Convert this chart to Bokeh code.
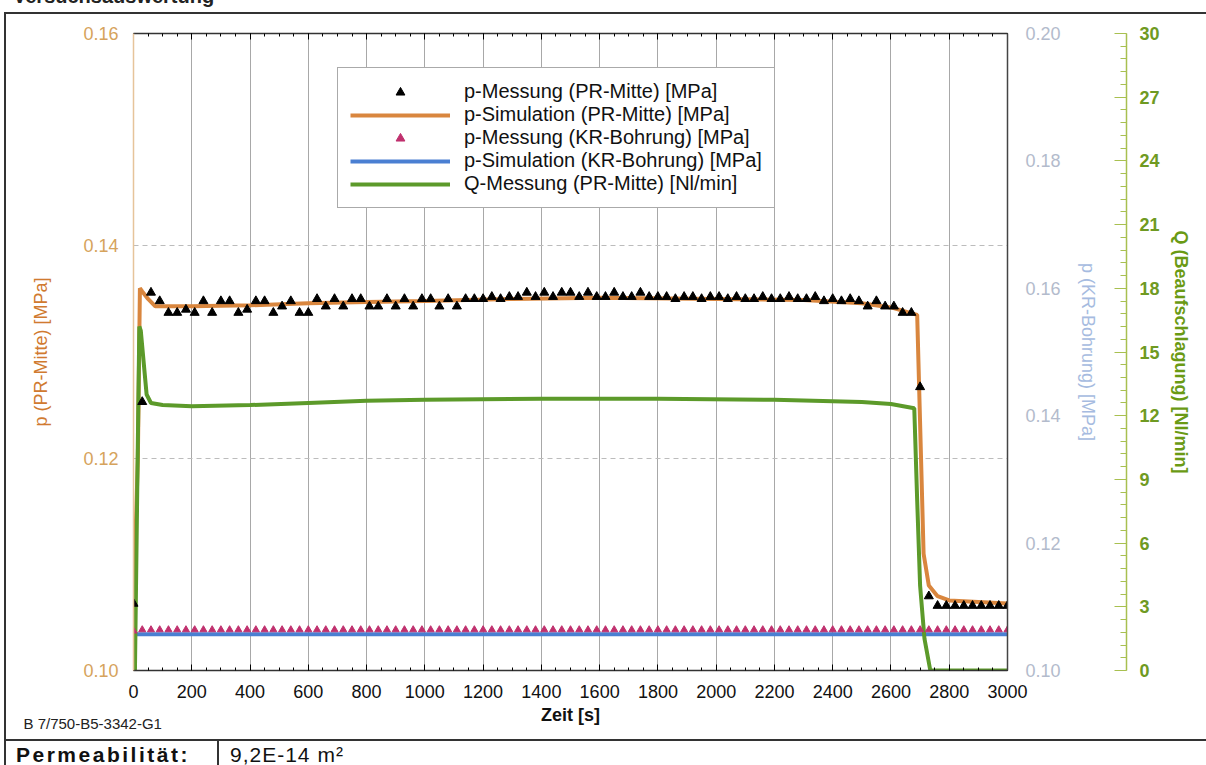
from bokeh.plotting import figure
from bokeh.layouts import column, row
from bokeh.models import (LinearAxis, Range1d, FixedTicker, Legend, LegendItem,
                          PrintfTickFormatter, Title, Div)
from bokeh.embed import file_html
from bokeh.resources import INLINE

FONT = "Liberation Sans"

# ---------------- data ----------------
meas_t = [0, 30, 60, 90, 120, 150, 180, 210, 240, 270, 300, 330, 360, 390, 420, 450, 480,
          510, 540, 570, 600, 630, 660, 690, 720, 750, 780, 810, 840, 870, 900, 930, 960,
          990, 1020, 1050, 1080, 1110, 1140, 1170, 1200, 1230, 1260, 1290, 1320, 1350, 1380,
          1410, 1440, 1470, 1500, 1530, 1560, 1590, 1620, 1650, 1680, 1710, 1740, 1770, 1800,
          1830, 1860, 1890, 1920, 1950, 1980, 2010, 2040, 2070, 2100, 2130, 2160, 2190, 2220,
          2250, 2280, 2310, 2340, 2370, 2400, 2430, 2460, 2490, 2520, 2550, 2580, 2610, 2640,
          2670, 2700, 2730, 2760, 2790, 2820, 2850, 2880, 2910, 2940, 2970, 3000]
p_meas_pr = [0.1063, 0.1253, 0.1356, 0.1348, 0.1337, 0.1337, 0.1340, 0.1337, 0.1348, 0.1337,
             0.1348, 0.1348, 0.1337, 0.1340, 0.1348, 0.1348, 0.1337, 0.1343, 0.1348, 0.1337,
             0.1337, 0.1350, 0.1343, 0.1350, 0.1343, 0.1350, 0.1350, 0.1343, 0.1343, 0.1350,
             0.1343, 0.1350, 0.1343, 0.1350, 0.1350, 0.1343, 0.1350, 0.1343, 0.1350, 0.1350,
             0.1350, 0.1352, 0.1350, 0.1352, 0.1352, 0.1356, 0.1352, 0.1356, 0.1352, 0.1356,
             0.1356, 0.1352, 0.1356, 0.1352, 0.1352, 0.1356, 0.1352, 0.1352, 0.1356, 0.1352,
             0.1352, 0.1352, 0.1350, 0.1352, 0.1352, 0.1350, 0.1352, 0.1352, 0.1350, 0.1352,
             0.1350, 0.1350, 0.1352, 0.1350, 0.1350, 0.1352, 0.1350, 0.1350, 0.1352, 0.1348,
             0.1350, 0.1348, 0.1350, 0.1348, 0.1343, 0.1348, 0.1343, 0.1343, 0.1337, 0.1337,
             0.1267, 0.1070, 0.1061, 0.1061, 0.1061, 0.1061, 0.1061, 0.1061, 0.1061, 0.1061,
             0.1061]
p_meas_kr = [0.1062, 0.1064, 0.1064, 0.1064, 0.1064, 0.1064, 0.1064, 0.1064, 0.1064, 0.1064,
             0.1064, 0.1064, 0.1064, 0.1064, 0.1064, 0.1064, 0.1064, 0.1064, 0.1064, 0.1064,
             0.1064, 0.1064, 0.1064, 0.1064, 0.1064, 0.1064, 0.1064, 0.1064, 0.1064, 0.1064,
             0.1064, 0.1064, 0.1064, 0.1064, 0.1064, 0.1064, 0.1064, 0.1064, 0.1064, 0.1064,
             0.1064, 0.1064, 0.1064, 0.1064, 0.1064, 0.1064, 0.1064, 0.1064, 0.1064, 0.1064,
             0.1064, 0.1064, 0.1064, 0.1064, 0.1064, 0.1064, 0.1064, 0.1064, 0.1064, 0.1064,
             0.1064, 0.1064, 0.1064, 0.1064, 0.1064, 0.1064, 0.1064, 0.1064, 0.1064, 0.1064,
             0.1064, 0.1064, 0.1064, 0.1064, 0.1064, 0.1064, 0.1064, 0.1064, 0.1064, 0.1064,
             0.1064, 0.1064, 0.1064, 0.1064, 0.1064, 0.1064, 0.1064, 0.1064, 0.1064, 0.1064,
             0.1064, 0.1064, 0.1064, 0.1064, 0.1064, 0.1064, 0.1064, 0.1064, 0.1064, 0.1064,
             0.1064]

sim_t = [0, 15, 22, 30, 50, 75, 200, 400, 600, 800, 1000, 1300, 1600, 2000, 2300, 2500,
         2600, 2690, 2712, 2730, 2760, 2800, 3000]
p_sim_pr = [0.1063, 0.1200, 0.1360, 0.1357, 0.1350, 0.1343, 0.1343, 0.1344, 0.1346, 0.1347,
            0.1348, 0.1350, 0.1351, 0.1350, 0.1349, 0.1346, 0.1342, 0.1335, 0.1110, 0.1080,
            0.1070, 0.1066, 0.1063]

kr_sim_t = [0, 3000]
p_sim_kr = [0.1057, 0.1057]

q_t = [0, 5, 20, 25, 45, 60, 100, 200, 400, 600, 800, 1000, 1400, 1800, 2200, 2500, 2600,
       2680, 2690, 2700, 2715, 2735, 3000]
q_meas = [0.0, 0.0, 16.2, 16.0, 13.0, 12.6, 12.5, 12.45, 12.5, 12.6, 12.7, 12.75, 12.8, 12.8,
          12.75, 12.65, 12.55, 12.35, 8.0, 4.0, 1.5, 0.0, 0.0]

x_ticks = [0, 200, 400, 600, 800, 1000, 1200, 1400, 1600, 1800, 2000, 2200, 2400, 2600, 2800, 3000]
pr_ticks = [0.10, 0.12, 0.14, 0.16]
kr_ticks = [0.10, 0.12, 0.14, 0.16, 0.18, 0.20]
q_ticks = [0, 3, 6, 9, 12, 15, 18, 21, 24, 27, 30]

legend_labels = ["p-Messung (PR-Mitte) [MPa]", "p-Simulation (PR-Mitte) [MPa]",
                 "p-Messung (KR-Bohrung) [MPa]", "p-Simulation (KR-Bohrung) [MPa]",
                 "Q-Messung (PR-Mitte) [Nl/min]"]

sheet_title = "Versuchsauswertung"
specimen_id = "B 7/750-B5-3342-G1"
perm_label = "Permeabilität:"
perm_value = "9,2E-14 m²"

C_ORANGE = "#d9863e"
C_BLUE = "#4a7fd2"
C_GREEN = "#5c9a2a"
C_MAG = "#c0306e"
C_FRAME = "#333333"

# page layout: top strip 14 px, left strip 6 px, figure 1200 x 725, bottom strip 26 px
TOP_H, LEFT_W, FIG_W, FIG_H, BOT_H = 14, 6, 1200, 725, 26

# ---------------- figure ----------------
p = figure(width=FIG_W, height=FIG_H, output_backend="svg", toolbar_location=None,
           x_range=Range1d(0, 3000), y_range=Range1d(0.10, 0.16),
           min_border_left=127, min_border_right=199, min_border_top=19, min_border_bottom=69)
p.extra_y_ranges = {"kr": Range1d(0.10, 0.20), "q": Range1d(0, 30)}
p.outline_line_color = None
p.background_fill_color = "white"
p.border_fill_color = "white"

minor_x = list(range(0, 3001, 50))

# x axis
xa = p.xaxis[0]
xa.ticker = FixedTicker(ticks=x_ticks, minor_ticks=minor_x)
xa.axis_label = "Zeit [s]"
xa.axis_label_text_font = FONT
xa.axis_label_text_font_style = "bold"
xa.axis_label_text_font_size = "18px"
xa.axis_label_text_color = "#111111"
xa.axis_label_standoff = 4
xa.major_label_text_font = FONT
xa.major_label_text_font_size = "18px"
xa.major_label_text_color = "#111111"
xa.major_label_standoff = 14
xa.major_tick_in = 6
xa.major_tick_out = 0
xa.minor_tick_in = 3
xa.minor_tick_out = 0
xa.axis_line_color = C_FRAME
xa.axis_line_width = 1.5

top = LinearAxis(ticker=FixedTicker(ticks=x_ticks, minor_ticks=minor_x),
                 major_label_text_color=None, major_label_text_font_size="8px",
                 major_tick_in=6, major_tick_out=0,
                 minor_tick_in=3, minor_tick_out=0, axis_line_color=C_FRAME,
                 axis_line_width=1.5, major_label_standoff=0)
p.add_layout(top, "above")

# left axis
ya = p.yaxis[0]
ya.ticker = FixedTicker(ticks=pr_ticks)
ya.formatter = PrintfTickFormatter(format="%.2f")
ya.axis_label = "p (PR-Mitte) [MPa]"
ya.axis_label_text_font = FONT
ya.axis_label_text_font_style = "normal"
ya.axis_label_text_font_size = "18px"
ya.axis_label_text_color = "#d07a30"
ya.axis_label_standoff = 29
ya.major_label_text_font = FONT
ya.major_label_text_font_size = "18px"
ya.major_label_text_color = "#d6a35c"
ya.major_label_standoff = 15
ya.major_tick_in = 0
ya.major_tick_out = 0
ya.minor_tick_line_color = None
ya.axis_line_color = "#e6c49a"
ya.axis_line_width = 1.5

# KR axis (right, next to the frame)
kra = LinearAxis(y_range_name="kr", ticker=FixedTicker(ticks=kr_ticks),
                 formatter=PrintfTickFormatter(format="%.2f"),
                 axis_label="p (KR-Bohrung) [MPa]",
                 axis_label_text_font=FONT, axis_label_text_font_style="normal",
                 axis_label_text_font_size="18px", axis_label_text_color="#a6bbe0",
                 axis_label_standoff=14,
                 major_label_text_font=FONT, major_label_text_font_size="18px",
                 major_label_text_color="#b3bbcc", major_label_standoff=18,
                 major_tick_in=0, major_tick_out=0, minor_tick_line_color=None,
                 axis_line_color="#444444", axis_line_width=1.5)
p.add_layout(kra, "right")

# empty gap between the two right axes
spacer = LinearAxis(y_range_name="q", ticker=FixedTicker(ticks=[15]), major_tick_out=26,
                    major_tick_in=0, axis_line_color=None, major_tick_line_color=None,
                    minor_tick_line_color=None, major_label_overrides={15: ""},
                    major_label_text_color=None, major_label_standoff=0)
p.add_layout(spacer, "right")

qa = LinearAxis(y_range_name="q",
                ticker=FixedTicker(ticks=q_ticks, minor_ticks=[i * 0.6 for i in range(51)]),
                axis_label="Q (Beaufschlagung) [Nl/min]",
                axis_label_text_font=FONT, axis_label_text_font_style="bold",
                axis_label_text_font_size="18px", axis_label_text_color="#6a9a14",
                axis_label_standoff=8,
                major_label_text_font=FONT, major_label_text_font_size="18px",
                major_label_text_font_style="bold",
                major_label_text_color="#6f9a22", major_label_standoff=13,
                major_tick_in=12, major_tick_out=0, minor_tick_in=6, minor_tick_out=0,
                major_tick_line_color="#a8c050", minor_tick_line_color="#a8c050",
                axis_line_color="#a8c050", axis_line_width=1.5)
p.add_layout(qa, "right")

# specimen id below the time axis, at the far left
p.add_layout(Title(text=specimen_id, align="left", vertical_align="top", offset=-110,
                   standoff=-26, text_font=FONT, text_font_style="normal",
                   text_font_size="15px", text_color="#222222"), "below")

# grids
p.xgrid.grid_line_color = "#a8a8a8"
p.xgrid.grid_line_width = 1
p.ygrid.grid_line_color = "#bcbcbc"
p.ygrid.grid_line_dash = "5 4"
p.ygrid.grid_line_width = 1

# ---------------- glyphs ----------------
r_kr_sim = p.line(kr_sim_t, p_sim_kr, y_range_name="kr", color=C_BLUE, line_width=4)
r_pr_sim = p.line(sim_t, p_sim_pr, color=C_ORANGE, line_width=4)
r_q = p.line(q_t, q_meas, y_range_name="q", color=C_GREEN, line_width=4)
r_kr_meas = p.scatter(meas_t, p_meas_kr, y_range_name="kr", marker="triangle", size=7,
                      color=C_MAG, line_color=C_MAG)
r_pr_meas = p.scatter(meas_t, p_meas_pr, marker="triangle", size=9, color="black")

legend = Legend(items=[LegendItem(label=legend_labels[0], renderers=[r_pr_meas]),
                       LegendItem(label=legend_labels[1], renderers=[r_pr_sim]),
                       LegendItem(label=legend_labels[2], renderers=[r_kr_meas]),
                       LegendItem(label=legend_labels[3], renderers=[r_kr_sim]),
                       LegendItem(label=legend_labels[4], renderers=[r_q])],
                location=(204, 462), orientation="vertical",
                label_text_font=FONT, label_text_font_size="20px", label_text_color="#111111",
                label_height=22, glyph_height=22, glyph_width=100, label_standoff=14,
                padding=12, spacing=0, margin=0,
                border_line_color="#555555", border_line_width=1.5,
                background_fill_color="white", background_fill_alpha=1.0)
p.add_layout(legend, "center")

# ---------------- sheet frame around the chart (HTML strips) ----------------
FF = "font-family:'Liberation Sans',Arial,sans-serif;"
top_html = (
    f'<div style="position:relative;width:1206px;height:{TOP_H}px;overflow:hidden;">'
    f'<div style="position:absolute;left:13px;top:-14px;{FF}font-size:20px;line-height:20px;'
    f'font-weight:bold;color:#222;white-space:nowrap;">{sheet_title}</div>'
    f'<div style="position:absolute;left:4px;top:12px;width:1202px;height:2px;background:{C_FRAME};"></div>'
    '</div>')
left_html = (
    f'<div style="position:relative;width:{LEFT_W}px;height:{FIG_H}px;overflow:hidden;">'
    f'<div style="position:absolute;left:4px;top:0;width:2px;height:{FIG_H}px;background:{C_FRAME};"></div>'
    '</div>')
bot_html = (
    f'<div style="position:relative;width:1206px;height:{BOT_H}px;overflow:hidden;">'
    f'<div style="position:absolute;left:4px;top:0;width:1202px;height:2px;background:{C_FRAME};"></div>'
    f'<div style="position:absolute;left:4px;top:0;width:2px;height:{BOT_H}px;background:{C_FRAME};"></div>'
    f'<div style="position:absolute;left:217px;top:0;width:2px;height:{BOT_H}px;background:{C_FRAME};"></div>'
    f'<div style="position:absolute;left:16px;top:5px;{FF}font-size:21px;line-height:21px;'
    f'font-weight:bold;letter-spacing:2.5px;color:#111;white-space:nowrap;">{perm_label}</div>'
    f'<div style="position:absolute;left:230px;top:5px;{FF}font-size:21px;line-height:21px;'
    f'letter-spacing:1px;color:#111;white-space:nowrap;">{perm_value}</div>'
    '</div>')

top_div = Div(text=top_html, width=1206, height=TOP_H, margin=(0, 0, 0, 0))
left_div = Div(text=left_html, width=LEFT_W, height=FIG_H, margin=(0, 0, 0, 0))
bot_div = Div(text=bot_html, width=1206, height=BOT_H, margin=(0, 0, 0, 0))

page = column(top_div, row(left_div, p, spacing=0), bot_div, spacing=0)

open("out.html", "w").write(file_html(page, INLINE))
